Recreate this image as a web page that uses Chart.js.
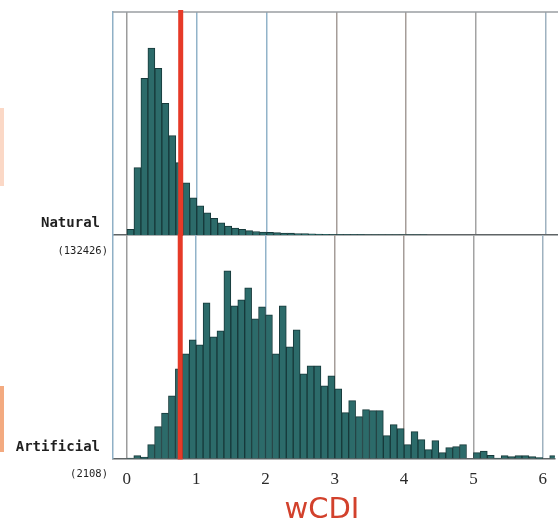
<!DOCTYPE html>
<html>
<head>
<meta charset="utf-8">
<script src="https://cdn.jsdelivr.net/npm/chart.js@4.4.0/dist/chart.umd.min.js"></script>
<style>
  body { margin: 0; background: #fff; }
  #wrap { position: relative; width: 558px; height: 527px; overflow: hidden; background: #fff; }
  canvas { position: absolute; left: 0; }
  #naturalchart { top: 0; }
  #artificialchart { top: 234px; }
  .lbl { position: absolute; right: 458px; font-family: 'DejaVu Sans Mono', monospace; color: #1f1f1f; white-space: nowrap; line-height: 1; }
  .big { font-size: 14px; font-weight: bold; }
  .small { font-size: 10.5px; right: 450px; }
  .tab { position: absolute; left: 0; width: 4px; }
  #xtitle { position: absolute; left: 322px; top: 494px; transform: translateX(-50%); font-family: 'DejaVu Sans', sans-serif; font-size: 29px; color: #d2412c; line-height: 1; }
</style>
</head>
<body>
<div id="wrap">
  <div class="tab" style="top:108px;height:78px;background:#fbd8c6;"></div>
  <div class="tab" style="top:386px;height:66px;background:#f3aa80;"></div>
  <canvas id="naturalchart" width="558" height="236"></canvas>
  <canvas id="artificialchart" width="558" height="293"></canvas>
  <div class="lbl big" style="top:215px;">Natural</div>
  <div class="lbl small" style="top:245px;">(132426)</div>
  <div class="lbl big" style="top:439px;">Artificial</div>
  <div class="lbl small" style="top:468px;">(2108)</div>
  <div id="xtitle">wCDI</div>
</div>
<script>
  // Setup Block
  // histogram bins of width 0.1, starting at 0
  const binStarts = [0.0, 0.1, 0.2, 0.3, 0.4, 0.5, 0.6, 0.7, 0.8, 0.9,
                     1.0, 1.1, 1.2, 1.3, 1.4, 1.5, 1.6, 1.7, 1.8, 1.9,
                     2.0, 2.1, 2.2, 2.3, 2.4, 2.5, 2.6, 2.7, 2.8, 2.9,
                     3.0, 3.1, 3.2, 3.3, 3.4, 3.5, 3.6, 3.7, 3.8, 3.9,
                     4.0, 4.1, 4.2, 4.3, 4.4, 4.5, 4.6, 4.7, 4.8, 4.9,
                     5.0, 5.1, 5.2, 5.3, 5.4, 5.5, 5.6, 5.7, 5.8, 5.9,
                     6.0, 6.1];
  const binWidth = 0.1;
  // bar heights (relative frequency, arbitrary units)
  const natural = [5.7, 67, 156, 186, 166, 131, 99, 72, 52, 37,
                   29, 22, 16.7, 12, 9, 7, 5.7, 4.3, 3.5, 3,
                   2.6, 2.3, 2, 1.8, 1.5, 1.3, 1.1, 0.9, 0.7, 0.5,
                   0.4, 0.4, 0.3, 0.3, 0.2, 0.2, 0.2, 0.1, 0.1, 0.1,
                   0.1, 0.1, 0.1];
  const artificial = [0.5, 3, 1.5, 14, 32, 45.6, 63, 90, 105, 119,
                      114, 156, 122, 128, 188, 153, 159, 171, 140, 152,
                      144, 105, 153, 112, 129, 85, 93, 93, 73, 83,
                      70, 46, 58, 42, 49, 48, 48, 23, 34, 30,
                      14, 27, 19, 9, 18, 6, 11, 12, 14, 0,
                      6, 7.6, 3.3, 0.5, 3, 2, 3, 3, 2, 1,
                      0, 3];
  const xTicks = [0, 1, 2, 3, 4, 5, 6];
  const gridTint = ['#9c9c9c', '#92b3c9', '#92b3c9', '#a59d99', '#a59d99', '#a3a3a3', '#9fb2c0'];
  const threshold = 0.77;

  const toPoints = (vals) => vals.map((v, i) => ({ x: binStarts[i] + binWidth / 2, y: v }));

  const barStyle = {
    backgroundColor: '#2c6b6a',
    borderColor: '#17393a',
    borderWidth: 1,
    borderSkipped: 'start',
    barPercentage: 1,
    categoryPercentage: 1,
    grouped: false
  };

  const xScale = (showTicks) => ({
    type: 'linear',
    min: -0.2,
    max: 6.175,
    offset: false,
    afterBuildTicks: (s) => { s.ticks = xTicks.map(v => ({ value: v })); },
    ticks: {
      display: showTicks,
      padding: 11,
      color: '#2a2a2a',
      font: { family: "'Liberation Serif', serif", size: 17 }
    },
    grid: {
      offset: false,
      drawTicks: false,
      lineWidth: 1.5,
      color: (ctx) => gridTint[ctx.index] || '#a0a0a0'
    },
    border: { color: '#5f6466', width: 1.5 }
  });

  const yScale = (maxVal) => ({
    min: 0,
    max: maxVal,
    ticks: { display: false },
    grid: { display: false, drawTicks: false },
    border: { color: '#8fb0c6', width: 1.5 }
  });

  // red threshold line + optional top frame
  const frameLines = {
    id: 'frameLines',
    afterDatasetsDraw(chart, args, opts) {
      const { ctx, chartArea, scales } = chart;
      ctx.save();
      if (opts.top) {
        ctx.strokeStyle = '#9a9ea2';
        ctx.lineWidth = 1.5;
        ctx.beginPath();
        ctx.moveTo(chartArea.left, chartArea.top);
        ctx.lineTo(chartArea.right, chartArea.top);
        ctx.stroke();
      }
      const px = scales.x.getPixelForValue(threshold);
      ctx.strokeStyle = '#e63a28';
      ctx.lineWidth = 5;
      ctx.beginPath();
      ctx.moveTo(px, chartArea.top - 2);
      ctx.lineTo(px, chartArea.bottom + 1);
      ctx.stroke();
      ctx.restore();
    }
  };

  // Config Block
  const config_natural = {
    type: 'bar',
    data: { datasets: [Object.assign({ label: 'Natural', data: toPoints(natural) }, barStyle)] },
    plugins: [frameLines],
    options: {
      responsive: false,
      animation: false,
      layout: { padding: { left: 113, right: 0, top: 12, bottom: 1 } },
      scales: { x: xScale(false), y: yScale(222) },
      plugins: { legend: { display: false }, tooltip: { enabled: false }, frameLines: { top: true } }
    }
  };

  const config_artificial = {
    type: 'bar',
    data: { datasets: [Object.assign({ label: 'Artificial', data: toPoints(artificial) }, barStyle)] },
    plugins: [frameLines],
    options: {
      responsive: false,
      animation: false,
      layout: { padding: { left: 113, right: 0, top: 1, bottom: 26 } },
      scales: { x: xScale(true), y: yScale(224) },
      plugins: { legend: { display: false }, tooltip: { enabled: false }, frameLines: { top: false } }
    }
  };

  // Render Block
  const naturalchart = new Chart(document.getElementById('naturalchart'), config_natural);
  const artificialchart = new Chart(document.getElementById('artificialchart'), config_artificial);
</script>
</body>
</html>
